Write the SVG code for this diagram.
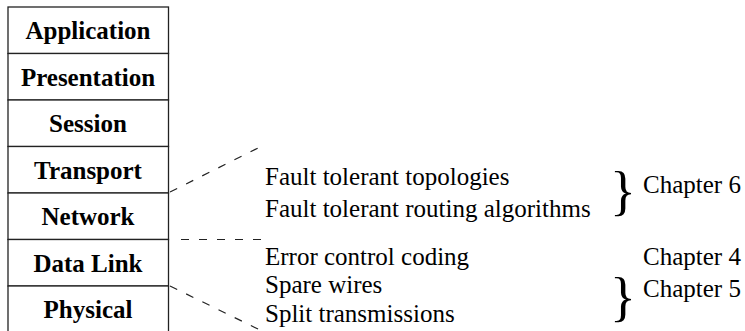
<svg xmlns="http://www.w3.org/2000/svg" width="745" height="331" viewBox="0 0 745 331">
  <style>
    .layer rect { fill: #ffffff; stroke: #222222; stroke-width: 1.3; }
    .layer text { font-family: "Liberation Serif", "Times New Roman", serif; font-weight: bold; font-size: 25px; text-anchor: middle; fill: #000000; }
    .item { font-family: "Liberation Serif", "Times New Roman", serif; font-size: 25px; fill: #000000; }
    .brace { font-family: "Liberation Serif", "Times New Roman", serif; font-size: 54px; fill: #000000; }
    .dash { stroke: #222222; stroke-width: 1.2; stroke-dasharray: 8 10; fill: none; }
  </style>
  <rect width="745" height="331" fill="#ffffff"/>

  <!-- OSI layer stack -->
  <g id="application" class="layer"><rect x="8" y="7" width="160.5" height="46.5"/><text x="88" y="39">Application</text></g>
  <g id="presentation" class="layer"><rect x="8" y="53.5" width="160.5" height="46.5"/><text x="88" y="85.5">Presentation</text></g>
  <g id="session" class="layer"><rect x="8" y="100" width="160.5" height="46.5"/><text x="88" y="132">Session</text></g>
  <g id="transport" class="layer"><rect x="8" y="146.5" width="160.5" height="46.5"/><text x="88" y="178.5">Transport</text></g>
  <g id="network" class="layer"><rect x="8" y="193" width="160.5" height="46.5"/><text x="88" y="225">Network</text></g>
  <g id="datalink" class="layer"><rect x="8" y="239.5" width="160.5" height="46.5"/><text x="88" y="271.5">Data Link</text></g>
  <g id="physical" class="layer"><rect x="8" y="286" width="160.5" height="60"/><text x="88" y="318">Physical</text></g>

  <!-- dashed guides from layer boundaries -->
  <g id="connectors">
    <line class="dash" x1="170" y1="192" x2="264" y2="145"/>
    <line class="dash" x1="181" y1="239.5" x2="264" y2="239.5"/>
    <line class="dash" x1="170" y1="286" x2="262" y2="331"/>
  </g>

  <!-- fault tolerance techniques -->
  <g id="network-items">
    <text class="item" x="265" y="185">Fault tolerant topologies</text>
    <text class="item" x="265" y="217">Fault tolerant routing algorithms</text>
  </g>
  <g id="datalink-items">
    <text class="item" x="265" y="265">Error control coding</text>
  </g>
  <g id="physical-items">
    <text class="item" x="265" y="293">Spare wires</text>
    <text class="item" x="265" y="322">Split transmissions</text>
  </g>

  <!-- chapter references -->
  <g id="chapter6">
    <text class="brace" x="610" y="209">}</text>
    <text class="item" x="643" y="193">Chapter 6</text>
  </g>
  <g id="chapter4">
    <text class="item" x="643" y="265">Chapter 4</text>
  </g>
  <g id="chapter5">
    <text class="brace" x="610" y="315">}</text>
    <text class="item" x="643" y="297">Chapter 5</text>
  </g>
</svg>
